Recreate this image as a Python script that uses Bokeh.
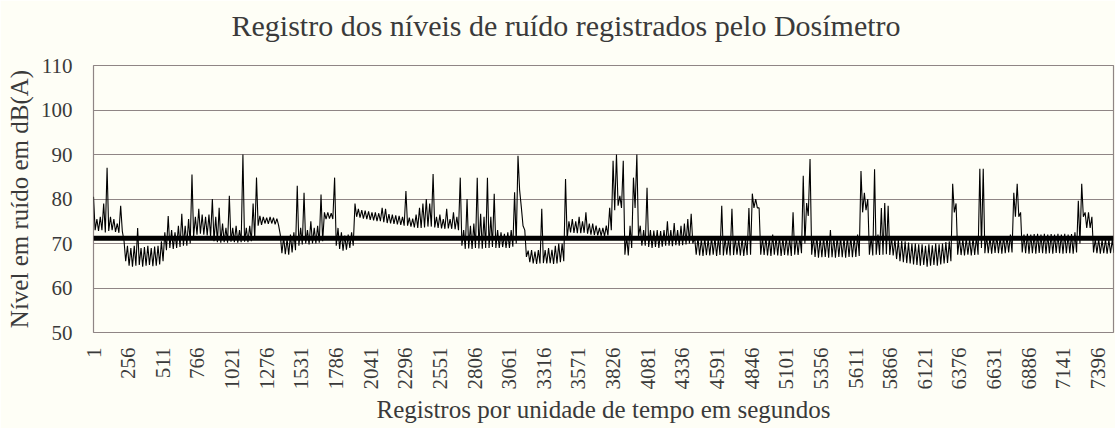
import math
from bokeh.plotting import figure
from bokeh.models import FixedTicker, Range1d, Span, Title
from bokeh.embed import file_html
from bokeh.resources import INLINE

# ---------------- data ----------------
# The record is read in bins of 25 records: the highest and lowest level
# reached inside each bin (dB(A)).
registro = list(range(1, 7502, 25))
nivel_max = [
    80.5, 75.5, 76.0, 79.0, 87.0, 76.0, 75.5, 74.5, 78.5, 70.5,
    69.5, 69.0, 69.5, 73.5, 69.0, 69.2, 69.5, 69.0, 69.3, 69.5,
    70.5, 72.5, 76.2, 73.0, 72.5, 74.0, 76.7, 74.0, 75.5, 85.5,
    76.0, 77.8, 76.5, 76.0, 76.5, 80.0, 76.0, 78.0, 74.5, 73.5,
    80.7, 73.5, 74.0, 73.0, 90.0, 73.5, 74.0, 79.0, 84.8, 76.2,
    76.0, 75.8, 76.0, 75.8, 75.6, 72.0, 71.5, 71.0, 72.0, 72.5,
    83.0, 73.5, 81.4, 73.0, 75.0, 73.5, 74.0, 81.0, 77.0, 77.0,
    76.8, 84.8, 73.5, 72.5, 71.8, 72.0, 72.5, 79.0, 77.8, 77.5,
    77.4, 77.2, 77.0, 77.0, 76.8, 78.0, 77.8, 76.6, 76.5, 76.3,
    76.2, 76.0, 81.8, 75.8, 75.6, 76.5, 78.0, 79.0, 80.0, 79.0,
    85.6, 76.0, 76.5, 75.5, 77.8, 75.5, 77.0, 76.0, 84.8, 73.0,
    80.0, 74.0, 74.5, 84.8, 76.7, 76.0, 84.8, 76.0, 81.2, 73.0,
    72.5, 72.2, 72.5, 73.0, 81.5, 89.7, 78.0, 73.0, 68.4, 68.5,
    68.2, 68.5, 77.8, 68.5, 69.0, 68.6, 69.5, 70.0, 70.0, 84.5,
    75.0, 75.5, 75.0, 76.0, 75.0, 77.0, 74.5, 74.5, 74.0, 73.5,
    73.5, 74.0, 78.0, 88.6, 90.0, 80.7, 88.6, 71.7, 74.0, 84.8,
    90.0, 74.0, 73.0, 82.5, 73.0, 72.9, 73.0, 72.8, 73.0, 75.0,
    73.0, 74.6, 73.0, 74.0, 74.5, 75.5, 76.7, 71.5, 71.3, 71.0,
    71.3, 71.0, 71.5, 71.3, 71.2, 78.5, 71.3, 71.2, 77.8, 71.3,
    71.0, 71.2, 71.0, 78.0, 81.2, 80.0, 78.0, 71.3, 71.5, 71.2,
    72.0, 71.5, 71.7, 71.3, 71.5, 71.2, 77.0, 71.5, 71.7, 85.2,
    79.1, 89.0, 71.5, 71.7, 71.3, 71.5, 71.6, 73.0, 71.4, 71.6,
    71.5, 71.3, 71.5, 71.6, 71.4, 72.0, 86.3, 81.4, 80.0, 71.5,
    86.7, 72.0, 78.0, 79.1, 78.5, 71.5, 71.0, 70.8, 70.6, 70.5,
    70.2, 70.0, 70.0, 69.8, 69.8, 69.5, 69.8, 69.6, 70.0, 69.8,
    70.0, 70.3, 70.5, 83.4, 79.0, 71.3, 71.0, 71.2, 71.0, 71.3,
    71.5, 86.8, 86.8, 71.7, 71.5, 71.6, 71.7, 71.5, 71.6, 71.7,
    72.0, 81.4, 83.4, 77.0, 72.0, 72.2, 72.0, 72.1, 72.2, 72.0,
    72.2, 72.0, 72.1, 72.0, 72.2, 72.0, 72.2, 72.0, 72.1, 72.5,
    79.6, 83.4, 77.0, 77.0, 76.0, 71.0, 71.0, 70.8, 71.0, 70.9,
    70.8,
]
nivel_min = [
    73.0, 72.8, 73.0, 72.5, 72.8, 73.0, 72.6, 72.4, 72.8, 66.0,
    65.0, 64.8, 65.0, 65.2, 64.8, 65.0, 65.2, 64.9, 65.0, 65.3,
    66.0, 68.5, 69.0, 68.8, 69.0, 69.2, 69.5, 69.5, 70.0, 71.5,
    72.0, 72.2, 72.0, 71.8, 71.5, 70.5, 70.3, 70.2, 70.3, 70.2,
    70.4, 70.3, 70.2, 70.3, 70.4, 70.3, 70.5, 71.0, 74.0, 74.2,
    74.5, 74.4, 74.5, 74.3, 74.2, 67.8, 67.6, 67.5, 68.0, 68.5,
    69.5, 69.8, 70.0, 69.8, 70.0, 70.0, 70.2, 70.5, 75.5, 75.6,
    75.5, 69.5, 68.8, 68.4, 68.6, 69.0, 69.5, 76.0, 75.8, 75.6,
    75.5, 75.3, 75.2, 75.0, 75.0, 74.8, 74.6, 74.5, 74.4, 74.3,
    74.2, 74.0, 74.0, 73.8, 73.6, 73.5, 73.5, 73.6, 73.8, 73.8,
    73.6, 73.5, 73.4, 73.3, 73.4, 73.3, 73.2, 73.0, 69.5, 68.8,
    68.9, 68.8, 69.0, 68.9, 68.8, 69.0, 69.0, 69.2, 69.0, 69.0,
    69.2, 69.0, 69.0, 69.3, 70.0, 82.0, 74.0, 67.0, 65.8, 65.5,
    65.4, 65.5, 65.6, 65.5, 65.6, 65.4, 65.5, 65.8, 66.0, 71.0,
    72.5, 72.4, 72.3, 72.3, 72.4, 72.2, 72.0, 71.9, 71.8, 71.7,
    71.6, 71.8, 73.0, 77.5, 78.5, 78.0, 67.5, 67.3, 69.0, 78.0,
    71.5, 69.5, 69.5, 69.2, 69.0, 69.2, 69.0, 69.3, 69.5, 69.5,
    69.4, 69.6, 69.5, 69.6, 69.8, 70.0, 70.0, 67.5, 67.3, 67.2,
    67.4, 67.3, 67.5, 67.2, 67.4, 67.3, 67.5, 67.3, 67.4, 67.5,
    67.3, 67.2, 67.4, 67.5, 78.0, 78.0, 67.5, 67.4, 67.3, 67.2,
    67.5, 67.3, 67.2, 67.4, 67.3, 67.2, 67.5, 67.4, 67.8, 70.0,
    76.2, 67.5, 67.0, 66.8, 66.9, 67.0, 66.8, 66.9, 66.8, 67.0,
    66.9, 66.8, 67.0, 66.9, 67.0, 67.2, 77.0, 77.5, 67.5, 67.3,
    67.5, 67.4, 67.5, 67.6, 67.4, 67.3, 66.5, 66.0, 65.8, 65.6,
    65.5, 65.3, 65.2, 65.0, 65.2, 64.8, 65.0, 65.2, 65.0, 65.3,
    65.5, 65.6, 66.0, 77.0, 67.5, 67.4, 67.3, 67.5, 67.3, 67.4,
    67.5, 69.0, 67.8, 67.8, 67.7, 67.9, 67.8, 67.7, 67.8, 68.0,
    68.0, 76.0, 76.0, 68.0, 67.8, 67.7, 67.8, 67.7, 67.9, 67.8,
    67.7, 67.8, 67.7, 67.9, 67.8, 67.7, 67.8, 67.8, 67.7, 68.0,
    70.0, 76.0, 73.5, 73.5, 68.0, 67.8, 67.7, 67.8, 67.7, 67.8,
    67.9,
]
nivel_medio = 71.2
x_ticks = [1, 256, 511, 766, 1021, 1276, 1531, 1786, 2041, 2296, 2551, 2806,
           3061, 3316, 3571, 3826, 4081, 4336, 4591, 4846, 5101, 5356, 5611,
           5866, 6121, 6376, 6631, 6886, 7141, 7396]
y_ticks = [50, 60, 70, 80, 90, 100, 110]

titulo = "Registro dos níveis de ruído registrados pelo Dosímetro"
x_titulo = "Registros por unidade de tempo em segundos"
y_titulo = "Nível em ruído em dB(A)"

# the trace alternates between each bin's maximum and minimum
xs, ys = [], []
for r, hi, lo in zip(registro, nivel_max, nivel_min):
    xs += [r, r + 12]
    ys += [hi, lo]

# ---------------- styling ----------------
FONT = "Liberation Serif"
TEXT = "#3a3a3a"
BG = "#fefef6"
GRID = "#8f8585"

p = figure(width=1115, height=428, output_backend="svg", toolbar_location=None,
           x_range=Range1d(1, 7510), y_range=Range1d(50, 110),
           min_border_left=93, min_border_right=2, min_border_top=65,
           min_border_bottom=96)

p.background_fill_color = BG
p.border_fill_color = BG
p.outline_line_color = GRID
p.outline_line_width = 1.2

p.line(xs, ys, line_color="black", line_width=1.1)
p.add_layout(Span(location=nivel_medio, dimension="width",
                  line_color="black", line_width=5))

p.xgrid.visible = False
p.ygrid.ticker = FixedTicker(ticks=y_ticks)
p.ygrid.grid_line_color = GRID
p.ygrid.grid_line_width = 1

# empty spacer between the title and the plot area
p.add_layout(Title(text=" ", text_font_size="20px", standoff=0), "above")

p.title.text = titulo
p.title.text_font = FONT
p.title.text_font_size = "30px"
p.title.text_font_style = "normal"
p.title.text_color = TEXT
p.title.align = "left"
p.title.vertical_align = "bottom"
p.title.offset = 138
p.title.standoff = 0

for ax in (p.xaxis, p.yaxis):
    ax.axis_line_color = None
    ax.major_tick_line_color = None
    ax.minor_tick_line_color = None
    ax.major_tick_out = 0
    ax.major_tick_in = 0
    ax.minor_tick_out = 0
    ax.minor_tick_in = 0
    ax.major_label_text_font = FONT
    ax.major_label_text_font_size = "21px"
    ax.major_label_text_color = TEXT
    ax.axis_label_text_font = FONT
    ax.axis_label_text_font_size = "25px"
    ax.axis_label_text_font_style = "normal"
    ax.axis_label_text_color = TEXT

p.xaxis.ticker = FixedTicker(ticks=x_ticks)
p.xaxis.major_label_orientation = math.pi / 2
p.xaxis.major_label_standoff = 15
p.xaxis.axis_label = x_titulo
p.xaxis.axis_label_standoff = 3

p.yaxis.ticker = FixedTicker(ticks=y_ticks)
p.yaxis.major_label_standoff = 21
p.yaxis.axis_label = y_titulo
p.yaxis.axis_label_standoff = 5

open("out.html", "w").write(file_html(p, INLINE))
